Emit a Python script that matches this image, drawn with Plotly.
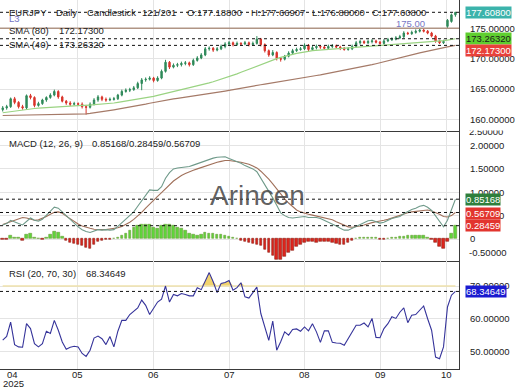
import plotly.graph_objects as go
import numpy as np

# ---------------- data ----------------
opens = [161.6, 161.9, 162.1, 163.4, 162.8, 162.1, 161.9, 163.9, 163.6, 162.3,
         162.6, 163.2, 163.6, 164.0, 164.6, 163.7, 163.0, 162.7, 162.5, 162.6,
         162.5, 162.1, 162.0, 162.5, 163.2, 163.7, 163.3, 163.2, 163.3, 163.4,
         164.0, 164.6, 164.8, 164.9, 165.2, 165.9, 166.5, 166.6, 166.8, 166.4,
         166.8, 167.9, 169.4, 168.6, 168.9, 169.0, 169.2, 169.3, 169.0, 169.7,
         170.1, 170.6, 171.6, 171.7, 171.4, 171.6, 172.0, 172.4, 172.6, 172.3,
         172.5, 172.4, 172.6, 172.3, 172.5, 173.2, 172.3, 171.3, 170.6, 171.0,
         170.0, 169.9, 170.4, 170.9, 171.3, 171.5, 171.6, 172.2, 171.5, 171.8,
         172.0, 171.9, 171.7, 172.0, 172.1, 171.9, 171.7, 171.5, 171.6, 172.0,
         172.6, 172.8, 172.6, 172.8, 172.9, 172.7, 172.5, 172.9, 173.1, 173.2,
         173.4, 173.6, 174.2, 174.1, 174.3, 174.5, 174.7, 174.5, 174.2, 173.7,
         172.9, 172.6, 175.3, 176.1, 177.188]
closes = [161.9, 162.1, 163.4, 162.8, 162.1, 161.9, 163.9, 163.6, 162.3, 162.6,
          163.2, 163.6, 164.0, 164.6, 163.7, 163.0, 162.7, 162.5, 162.6, 162.5,
          162.1, 162.0, 162.5, 163.2, 163.7, 163.3, 163.2, 163.3, 163.4, 164.0,
          164.6, 164.8, 164.9, 165.2, 165.9, 166.5, 166.6, 166.8, 166.4, 166.8,
          167.9, 169.4, 168.6, 168.9, 169.0, 169.2, 169.3, 169.0, 169.7, 170.1,
          170.6, 171.6, 171.7, 171.4, 171.6, 172.0, 172.4, 172.6, 172.3, 172.5,
          172.4, 172.6, 172.3, 172.5, 173.2, 172.3, 171.3, 170.6, 171.0, 170.0,
          169.9, 170.4, 170.9, 171.3, 171.5, 171.6, 172.2, 171.5, 171.8, 172.0,
          171.9, 171.7, 172.0, 172.1, 171.9, 171.7, 171.5, 171.6, 172.0, 172.6,
          172.8, 172.6, 172.8, 172.9, 172.7, 172.5, 172.9, 173.1, 173.2, 173.4,
          173.6, 174.2, 174.1, 174.3, 174.5, 174.7, 174.5, 174.2, 173.7, 172.9,
          172.6, 172.8, 176.3, 177.19, 177.608]
highs = [162.2, 162.4, 163.6, 163.7, 163.0, 162.4, 164.1, 164.2, 163.8, 162.9,
         163.4, 163.8, 164.3, 164.9, 164.8, 163.9, 163.2, 163.0, 162.9, 162.8,
         162.8, 162.4, 162.8, 163.5, 164.0, 163.9, 163.6, 163.6, 163.7, 164.2,
         164.9, 165.1, 165.2, 165.5, 166.2, 166.8, 166.9, 167.1, 167.0, 167.1,
         168.2, 169.8, 169.6, 169.2, 169.3, 169.5, 169.6, 169.5, 170.0, 170.4,
         170.9, 171.9, 172.0, 171.9, 171.9, 172.3, 172.7, 172.9, 172.8, 172.8,
         172.7, 172.9, 172.8, 172.8, 173.7, 173.4, 172.5, 171.5, 171.4, 171.2,
         170.2, 170.6, 171.2, 171.6, 171.8, 171.9, 172.5, 172.4, 172.1, 172.3,
         172.2, 172.1, 172.3, 172.4, 172.3, 172.1, 171.9, 171.9, 172.3, 172.9,
         173.1, 173.0, 173.1, 173.2, 173.1, 172.9, 173.2, 173.4, 173.5, 173.7,
         173.9, 174.5, 174.4, 174.6, 174.8, 174.9, 174.9, 174.7, 174.4, 173.9,
         173.1, 173.1, 176.5, 177.4, 177.66907]
lows = [161.3, 161.6, 161.9, 162.5, 161.8, 161.6, 161.7, 163.3, 162.0, 162.1,
        162.4, 162.9, 163.4, 163.8, 163.4, 162.8, 162.4, 162.2, 162.3, 162.2,
        161.8, 160.8, 161.8, 162.3, 162.9, 163.0, 162.9, 163.0, 163.1, 163.2,
        163.8, 164.4, 164.5, 164.7, 165.0, 164.8, 166.2, 166.4, 166.1, 166.2,
        166.6, 167.7, 168.3, 168.4, 168.6, 168.7, 168.9, 168.7, 168.8, 169.5,
        169.9, 170.4, 171.3, 171.1, 171.2, 171.4, 171.7, 172.1, 172.0, 172.1,
        172.1, 172.2, 172.0, 172.1, 172.3, 172.0, 171.0, 170.3, 170.4, 169.7,
        169.5, 169.7, 170.2, 170.6, 171.1, 171.3, 171.4, 171.2, 171.3, 171.5,
        171.6, 171.5, 171.5, 171.7, 171.7, 171.4, 171.3, 171.3, 171.4, 171.8,
        172.3, 172.4, 172.4, 172.5, 172.5, 172.3, 172.3, 172.7, 172.9, 173.0,
        173.2, 173.4, 173.9, 173.9, 174.1, 174.3, 174.3, 174.0, 173.5, 172.6,
        172.4, 172.4, 175.0, 175.9, 176.88]
sma40 = [161.1, 161.2, 161.3, 161.4, 161.45, 161.5, 161.6, 161.7, 161.8, 161.85,
         161.9, 161.95, 162.0, 162.05, 162.1, 162.15, 162.2, 162.2, 162.25, 162.25,
         162.3, 162.3, 162.35, 162.35, 162.4, 162.45, 162.5, 162.6, 162.7, 162.8,
         162.9, 163.0, 163.1, 163.2, 163.3, 163.4, 163.5, 163.65, 163.8, 163.95,
         164.1, 164.25, 164.4, 164.55, 164.7, 164.85, 165.0, 165.15, 165.3, 165.45,
         165.6, 165.8, 166.0, 166.2, 166.4, 166.6, 166.8, 167.0, 167.25, 167.5,
         167.75, 168.0, 168.3, 168.6, 168.85, 169.1, 169.35, 169.6, 169.8, 170.0,
         170.2, 170.4, 170.55, 170.7, 170.85, 171.0, 171.1, 171.2, 171.3, 171.35,
         171.4, 171.45, 171.5, 171.55, 171.6, 171.65, 171.7, 171.75, 171.8, 171.85,
         171.9, 171.9, 171.95, 172.0, 172.0, 172.05, 172.1, 172.15, 172.2, 172.25,
         172.3, 172.35, 172.4, 172.5, 172.55, 172.6, 172.7, 172.75, 172.8, 172.85,
         172.9, 172.95, 173.05, 173.15, 173.2632]
sma80 = [160.65, 160.66, 160.67, 160.68, 160.69, 160.7, 160.71, 160.72, 160.73, 160.74,
         160.75, 160.76, 160.77, 160.78, 160.79, 160.8, 160.81, 160.82, 160.83, 160.84,
         160.86, 160.92, 161.0, 161.08, 161.16, 161.25, 161.36, 161.47, 161.58, 161.69,
         161.8, 161.9, 162.0, 162.1, 162.24, 162.38, 162.52, 162.66, 162.8, 162.94,
         163.08, 163.2, 163.29, 163.38, 163.47, 163.56, 163.65, 163.74, 163.83, 163.92,
         164.0, 164.11, 164.22, 164.33, 164.44, 164.55, 164.66, 164.77, 164.9, 165.02,
         165.14, 165.26, 165.38, 165.5, 165.6, 165.7, 165.8, 165.9, 166.0, 166.1,
         166.2, 166.33, 166.45, 166.56, 166.67, 166.78, 166.89, 167.0, 167.11, 167.22,
         167.33, 167.45, 167.57, 167.69, 167.81, 167.93, 168.05, 168.17, 168.29, 168.4,
         168.55, 168.7, 168.85, 169.0, 169.15, 169.3, 169.45, 169.6, 169.75, 169.92,
         170.09, 170.26, 170.43, 170.6, 170.77, 170.94, 171.1, 171.25, 171.4, 171.55,
         171.7, 171.82, 171.94, 172.06, 172.173]
macd = [0.30, 0.33, 0.40, 0.36, 0.33, 0.30, 0.38, 0.45, 0.40, 0.38,
        0.42, 0.50, 0.60, 0.68, 0.66, 0.58, 0.48, 0.40, 0.32, 0.26,
        0.20, 0.16, 0.14, 0.17, 0.20, 0.19, 0.20, 0.19, 0.20, 0.27,
        0.35, 0.42, 0.50, 0.58, 0.70, 0.82, 0.94, 1.05, 1.04, 1.04,
        1.12, 1.30, 1.42, 1.50, 1.52, 1.53, 1.54, 1.55, 1.58, 1.61,
        1.64, 1.68, 1.71, 1.73, 1.75, 1.76, 1.76, 1.72, 1.69, 1.66,
        1.62, 1.57, 1.54, 1.50, 1.44, 1.30, 1.16, 1.05, 0.88, 0.72,
        0.56, 0.50, 0.46, 0.45, 0.46, 0.47, 0.48, 0.46, 0.46, 0.46,
        0.44, 0.40, 0.36, 0.33, 0.28, 0.23, 0.19, 0.19, 0.23, 0.26,
        0.30, 0.35, 0.39, 0.40, 0.37, 0.34, 0.36, 0.40, 0.44, 0.46,
        0.48, 0.54, 0.59, 0.63, 0.66, 0.70, 0.72, 0.68, 0.61, 0.50,
        0.38, 0.26, 0.40, 0.64, 0.85168]
signal = [0.31, 0.34, 0.37, 0.40, 0.44, 0.46, 0.45, 0.42, 0.40, 0.41,
          0.44, 0.48, 0.53, 0.57, 0.58, 0.55, 0.49, 0.43, 0.37, 0.32,
          0.28, 0.25, 0.23, 0.21, 0.20, 0.20, 0.20, 0.21, 0.22, 0.24,
          0.27, 0.31, 0.36, 0.42, 0.49, 0.57, 0.66, 0.75, 0.83, 0.91,
          0.99, 1.08, 1.16, 1.24, 1.30, 1.36, 1.40, 1.44, 1.47, 1.50,
          1.53, 1.56, 1.59, 1.61, 1.64, 1.66, 1.68, 1.68, 1.67, 1.66,
          1.64, 1.62, 1.60, 1.56, 1.52, 1.45, 1.37, 1.28, 1.18, 1.07,
          0.96, 0.86, 0.77, 0.69, 0.62, 0.58, 0.55, 0.53, 0.51, 0.49,
          0.48, 0.46, 0.44, 0.41, 0.37, 0.33, 0.29, 0.26, 0.25, 0.26,
          0.28, 0.30, 0.33, 0.35, 0.37, 0.38, 0.40, 0.42, 0.45, 0.48,
          0.51, 0.54, 0.56, 0.58, 0.59, 0.61, 0.62, 0.62, 0.60, 0.57,
          0.53, 0.48, 0.47, 0.50, 0.56709]
hist = [-0.02, -0.01, 0.08, 0.03, 0.02, -0.04, 0.10, 0.12, 0.03, 0.01,
        -0.01, 0.02, 0.10, 0.15, 0.14, 0.06, -0.03, -0.07, -0.09, -0.12,
        -0.15, -0.18, -0.20, -0.12, -0.05, -0.03, -0.02, -0.02, 0.00, 0.03,
        0.08, 0.12, 0.18, 0.24, 0.28, 0.30, 0.30, 0.30, 0.24, 0.22,
        0.28, 0.30, 0.30, 0.28, 0.25, 0.22, 0.18, 0.12, 0.10, 0.08,
        0.10, 0.13, 0.11, 0.12, 0.10, 0.09, 0.07, 0.05, 0.02, 0.00,
        -0.03, -0.05, -0.08, -0.10, -0.12, -0.15, -0.22, -0.28, -0.36, -0.44,
        -0.45, -0.38, -0.30, -0.25, -0.17, -0.12, -0.07, -0.06, -0.06, -0.07,
        -0.05, -0.06, -0.06, -0.07, -0.10, -0.11, -0.12, -0.08, -0.04, 0.00,
        0.02, 0.04, 0.03, 0.04, 0.02, -0.01, -0.01, 0.00, 0.02, 0.03,
        0.06, 0.06, 0.07, 0.07, 0.08, 0.08, 0.07, 0.02, -0.02, -0.08,
        -0.16, -0.20, -0.06, 0.12, 0.28459]
rsi = [53.5, 54.6, 59.0, 52.1, 51.4, 51.3, 58.5, 57.0, 52.4, 51.4,
       52.4, 56.2, 55.5, 59.5, 56.5, 52.9, 50.7, 51.3, 51.6, 51.4,
       49.4, 48.5, 50.4, 54.1, 54.7, 53.9, 52.1, 54.6, 51.4, 56.2,
       59.5, 59.5, 61.3, 62.3, 63.3, 65.7, 64.1, 61.3, 63.1, 65.1,
       66.0, 70.0, 65.1, 67.4, 67.0, 67.7, 67.4, 67.0, 67.0, 69.5,
       68.9, 71.5, 74.1, 71.3, 68.0, 70.8, 71.1, 71.7, 68.7, 69.5,
       71.0, 66.7, 66.3, 68.0, 69.7, 61.6, 57.5, 53.4, 59.3, 50.4,
       53.0, 56.0, 55.0, 56.7, 56.9, 56.2, 57.5, 56.3, 58.5, 56.0,
       52.8, 56.3, 56.3, 52.8, 52.6, 52.5, 51.9, 54.0, 56.0, 58.0,
       58.0, 58.7, 57.5, 60.1, 54.3, 54.2, 57.0, 58.5, 60.6, 60.1,
       62.0, 63.3, 58.8, 61.1, 61.3, 62.6, 63.9, 60.0, 56.5, 48.3,
       47.8, 51.4, 63.6, 67.2, 68.34649]

month_labels = ["04", "05", "06", "07", "08", "09", "10"]
month_pos = [-0.68, 18.95, 38.0, 57.0, 75.9, 95.1, 111.7]
year_label = "2025"
level_l3 = 175.0
price_ticks = [160, 165, 170, 175]
macd_ticks = [0, 0.5, 1.0, 1.5, 2.0]
rsi_ticks = [50, 60, 70]
rsi_upper, rsi_lower = 70, 30

# ---------------- styling ----------------
FONT = "Liberation Sans"
FS = 9.5
UP, DN = "#2f8a5a", "#d9342b"
GRID = "#e4e4e4"
AX = "#3a3a3a"
W_PLOT, H_PLOT = 459.3, 368.7

idx = list(range(len(closes)))
fig = go.Figure()

fig.add_trace(go.Candlestick(
    x=idx, open=opens, high=highs, low=lows, close=closes,
    increasing=dict(line=dict(color=UP, width=1), fillcolor=UP),
    decreasing=dict(line=dict(color=DN, width=1), fillcolor=DN),
    whiskerwidth=0, xaxis="x", yaxis="y", showlegend=False, hoverinfo="skip"))
fig.add_trace(go.Scatter(x=idx, y=sma80, mode="lines", line=dict(color="#a57a68", width=1.2),
                         xaxis="x", yaxis="y", showlegend=False, hoverinfo="skip"))
fig.add_trace(go.Scatter(x=idx, y=sma40, mode="lines", line=dict(color="#9ad382", width=1.2),
                         xaxis="x", yaxis="y", showlegend=False, hoverinfo="skip"))

hcol = ["#5fd63a" if v >= 0 else "#e0241c" for v in hist]
hline = ["#6b9a3a" if v >= 0 else "#8a1f14" for v in hist]
fig.add_trace(go.Bar(x=idx, y=hist, width=0.62, marker=dict(color=hcol, line=dict(color=hline, width=0.6)),
                     xaxis="x2", yaxis="y2", showlegend=False, hoverinfo="skip"))
fig.add_trace(go.Scatter(x=idx, y=signal, mode="lines", line=dict(color="#a0705a", width=1.1),
                         xaxis="x2", yaxis="y2", showlegend=False, hoverinfo="skip"))
fig.add_trace(go.Scatter(x=idx, y=macd, mode="lines", line=dict(color="#6f9a8a", width=1.1),
                         xaxis="x2", yaxis="y2", showlegend=False, hoverinfo="skip"))

# RSI overbought fill
fig.add_trace(go.Scatter(x=idx, y=[rsi_upper] * len(idx), mode="lines", line=dict(color="#efe2ad", width=1.6),
                         xaxis="x3", yaxis="y3", showlegend=False, hoverinfo="skip"))
fig.add_trace(go.Scatter(x=idx, y=np.maximum(rsi, rsi_upper), mode="lines", line=dict(width=0),
                         fill="tonexty", fillcolor="#f1d36e",
                         xaxis="x3", yaxis="y3", showlegend=False, hoverinfo="skip"))
fig.add_trace(go.Scatter(x=idx, y=rsi, mode="lines", line=dict(color="#35339a", width=1.1),
                         xaxis="x3", yaxis="y3", showlegend=False, hoverinfo="skip"))

def dline(yref, val, dash="3px,3px", color="#111", width=1):
    fig.add_shape(type="line", xref="x domain", yref=yref, x0=0, x1=1, y0=val, y1=val,
                  line=dict(color=color, width=width, dash=dash), layer="above")

dline("y", level_l3, dash="solid", color="#b09585", width=1.5)
dline("y", closes[-1])
dline("y", sma40[-1])
dline("y", sma80[-1])
dline("y2", macd[-1])
dline("y2", signal[-1])
dline("y2", hist[-1])
dline("y3", rsi[-1])

xcommon = dict(range=[-0.68, 114.9], tickvals=month_pos, showgrid=True, gridcolor=GRID, gridwidth=1,
               zeroline=False, showline=True, linecolor=AX, linewidth=1.2, ticks="",
               showticklabels=False, automargin=False, fixedrange=True)
ycommon = dict(side="right", showgrid=True, gridcolor=GRID, gridwidth=1, zeroline=False, showline=True,
               linecolor=AX, linewidth=1.2, ticks="", ticklabelstandoff=8, automargin=False,
               tickfont=dict(family=FONT, size=FS, color="#222"))

fig.update_layout(
    template="none",
    width=520, height=390, margin=dict(l=0, r=520 - W_PLOT, t=0, b=390 - H_PLOT, pad=0),
    paper_bgcolor="white", plot_bgcolor="white", showlegend=False, bargap=0, boxgap=0.5,
    font=dict(family=FONT, size=FS, color="#222"),
    xaxis=dict(xcommon, anchor="y", rangeslider=dict(visible=False)),
    xaxis2=dict(xcommon, anchor="y2", matches="x"),
    xaxis3=dict(xcommon, anchor="y3", matches="x"),
    yaxis=dict(ycommon, domain=[0.6461, 1], range=[158.167, 179.631], tickvals=price_ticks, tickformat=".5f"),
    yaxis2=dict(ycommon, domain=[0.2921, 0.6461], range=[-0.475, 2.319], tickvals=macd_ticks,
                ticktext=["0", "0.50000", "1.00000", "1.50000", "2.00000"]),
    yaxis3=dict(ycommon, domain=[0, 0.2921], range=[44.65, 77.58], tickvals=rsi_ticks, tickformat=".5f"),
)

def py(px):
    return (H_PLOT - px) / H_PLOT

def px_x(px):
    return px / W_PLOT

NB = "\u00a0"
def txt(x, y, s, color="#222", size=FS, xanchor="left", xref="paper", bg=None, w=None, h=None):
    fig.add_annotation(xref=xref, yref="paper", x=px_x(x) if xref == "paper" else x, y=py(y), text=s,
                       showarrow=False, xanchor=xanchor, yanchor="middle", borderpad=0,
                       bgcolor=bg, width=w, height=h,
                       font=dict(family=FONT, size=size, color=color))

def row(y, items, color="#222"):
    for x, s in items:
        txt(x, y, s, color=color)

# header line, word positions as in the reference
row(12.3, [(8.5, "EURJPY"), (55.5, "Daily"), (86.5, "Candlestick"), (141.5, "121/201"),
           (186, f"O:{opens[-1]:.5f}"), (250.5, f"H:{highs[-1]:.5f}"),
           (311, f"L:{lows[-1]:.5f}"), (371, f"C:{closes[-1]:.5f}")])
txt(8.5, 18.5, "L3", color="#7373c4")
row(30, [(8.5, "SMA (80)"), (58.5, f"{sma80[-1]:.5f}")])
row(44.5, [(8.5, "SMA (40)"), (58.5, f"{sma40[-1]:.5f}")])
txt(395, 23.5, f"{level_l3:.2f}", color="#7878c4")
row(143.3, [(8.5, "MACD (12, 26, 9)"), (91.5, f"{macd[-1]:.5f}/{hist[-1]:.5f}/{signal[-1]:.5f}")])
row(273.5, [(8.3, f"RSI (20, {rsi_upper}, {rsi_lower})"), (85, f"{rsi[-1]:.5f}")])
txt(258, 195, "Arincen", color="rgba(70,70,70,0.85)", size=28, xanchor="center")
txt(468, 252.3, "-0.50000")
# partially hidden top tick of the MACD pane
txt(468, 131.5, "2.50000")
txt(462, 127.3, NB, bg="white", w=56, h=5.2, size=4)
txt(13, 374.5, month_labels[0], xanchor="center")
txt(13.5, 383.5, year_label, xanchor="center")
for lab, pos in zip(month_labels[1:], month_pos[1:]):
    txt(pos, 374.5, lab, xanchor="center", xref="x3")

def box(yref, val, s, bg, fg, yshift=0):
    fig.add_annotation(xref="paper", yref=yref, x=px_x(465.5), y=val, text=s, showarrow=False,
                       xanchor="left", yanchor="middle", yshift=yshift, bgcolor=bg, borderpad=0,
                       font=dict(family=FONT, size=FS, color=fg))

box("y", closes[-1], f"{closes[-1]:.5f}", "#3bb3ab", "white")
box("y", sma40[-1], f"{sma40[-1]:.5f}", "#5fcf2f", "#1a1a1a")
box("y", sma80[-1], f"{sma80[-1]:.5f}", "#e8413a", "white", yshift=-5)
box("y2", macd[-1], f"{macd[-1]:.5f}", "#2f7f3c", "white")
box("y2", signal[-1], f"{signal[-1]:.5f}", "#e2352e", "white", yshift=-1)
box("y2", hist[-1], f"{hist[-1]:.5f}", "#e2352e", "white")
box("y3", rsi[-1], f"{rsi[-1]:.5f}", "#1b1bd0", "white")

fig.write_html("out.html", config={"displayModeBar": False},
               post_script="document.body.style.margin='0';document.body.style.overflow='hidden';")
